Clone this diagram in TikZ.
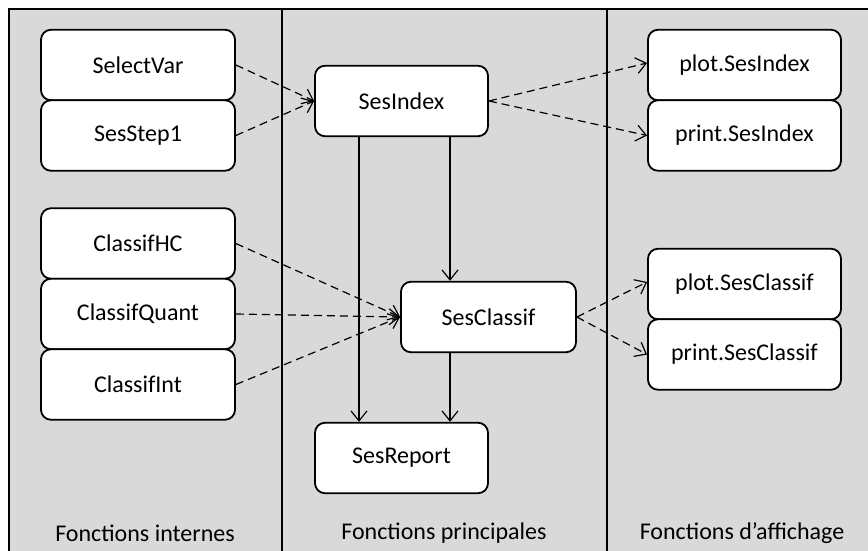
\documentclass[tikz,border=0pt]{standalone}
\usepackage{fontspec}
\setmainfont{Carlito}
\usetikzlibrary{arrows.meta}
\definecolor{bggray}{HTML}{D9D9D9}
\begin{document}
\begin{tikzpicture}[x=1pt,y=-1pt,
  box/.style={draw, line width=1.8pt, fill=white, rounded corners=10pt,
    minimum width=194pt, minimum height=70.5pt, inner sep=0pt,
    font=\fontsize{24}{28}\selectfont},
  mbox/.style={box, minimum width=173pt},
  arr/.style={line width=1.2pt, -{Straight Barb[length=10pt,width=16pt,line width=1.2pt]}},
  darr/.style={arr, dash pattern=on 8pt off 5pt},
  lbl/.style={font=\fontsize{24}{28}\selectfont, inner sep=0pt}]
\useasboundingbox (0,0) rectangle (868,550);
\fill[white] (0,0) rectangle (868,550);
\fill[bggray] (9,9) rectangle (870,552);
\draw[line width=2pt] (9,552) -- (9,9) -- (870,9);
\draw[line width=2pt] (282,9) -- (282,552);
\draw[line width=2pt] (607,9) -- (607,552);

% left column
\node[box] (selectvar) at (138,65) {SelectVar};
\node[box] (sesstep1) at (138,135.5) {SesStep1};
\node[box] (classifhc) at (138,243.5) {ClassifHC};
\node[box] (classifquant) at (138,314) {ClassifQuant};
\node[box] (classifint) at (138,384.5) {ClassifInt};

% middle column
\node[mbox] (sesindex) at (401.5,101) {SesIndex};
\node[box, minimum width=175pt] (sesclassif) at (488.5,317) {SesClassif};
\node[mbox] (sesreport) at (401.5,458) {SesReport};

% right column
\node[box, minimum width=193pt] (plotidx) at (744.5,65) {plot.SesIndex};
\node[box, minimum width=193pt] (printidx) at (744.5,135.5) {print.SesIndex};
\node[box, minimum width=193pt] (plotcl) at (744.5,284) {plot.SesClassif};
\node[box, minimum width=193pt] (printcl) at (744.5,354.5) {print.SesClassif};

% labels
\node[lbl] (l1) at (145,533) {Fonctions internes};
\node[lbl] (l2) at (444,533) {Fonctions principales};
\node[lbl] (l3) at (742,533) {Fonctions d’affichage};

% dashed connectors
\draw[darr] (selectvar.east) -- (sesindex.west);
\draw[darr] (sesstep1.east) -- (sesindex.west);
\draw[darr] (sesindex.east) -- ([yshift=2pt]plotidx.west);
\draw[darr] (sesindex.east) -- (printidx.west);
\draw[darr] (classifhc.east) -- (sesclassif.west);
\draw[darr] (classifquant.east) -- (sesclassif.west);
\draw[darr] (classifint.east) -- (sesclassif.west);
\draw[darr] (sesclassif.east) -- ([yshift=2pt]plotcl.west);
\draw[darr] (sesclassif.east) -- (printcl.west);

% solid connectors
\coordinate (v1) at ([xshift=48.5pt]sesindex.south);
\coordinate (v2) at ([xshift=-42.5pt]sesindex.south);
\draw[arr] (v1) -- (v1 |- sesclassif.north);
\draw[arr] (v1 |- sesclassif.south) -- (v1 |- sesreport.north);
\draw[arr] (v2) -- (v2 |- sesreport.north);
\end{tikzpicture}
\end{document}
